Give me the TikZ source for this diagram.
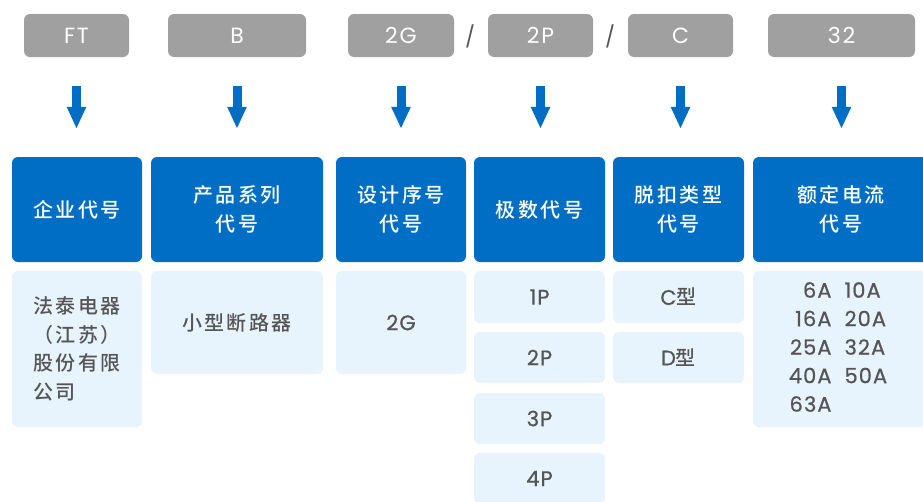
\documentclass[tikz,border=0pt]{standalone}
\usepackage{fontspec}
\setmainfont{Noto Sans CJK SC Medium}[LetterSpace=12]
\newfontfamily\latinfont{Poppins}[LetterSpace=8]
\newfontfamily\latinmed{Poppins}[LetterSpace=5,FakeBold=0.7]
\usetikzlibrary{arrows.meta}
\definecolor{hdrblue}{RGB}{0,110,196}
\definecolor{lightbg}{RGB}{232,244,253}
\definecolor{codegray}{RGB}{160,160,160}
\definecolor{bodytext}{RGB}{85,85,85}
\tikzset{
  codebox/.style={fill=codegray, rounded corners=6pt, text=white, inner sep=0pt,
    minimum height=43pt, font=\latinfont\fontsize{22pt}{25pt}\selectfont},
  hdrbox/.style={fill=hdrblue, rounded corners=6pt, text=white, inner sep=0pt,
    minimum height=105pt, align=center, font=\fontsize{20pt}{29pt}\selectfont},
  bodybox/.style={fill=lightbg, rounded corners=6pt, text=bodytext, inner sep=0pt,
    align=center, font=\fontsize{20pt}{28.5pt}\selectfont},
  latinbody/.style={bodybox, font=\latinmed\fontsize{21pt}{28.5pt}\selectfont},
  slashtext/.style={text=bodytext, inner sep=0pt, font=\latinfont\fontsize{21pt}{24pt}\selectfont},
  downarrow/.style={draw=hdrblue, line width=9pt, -{Triangle[width=18pt,length=22pt]},
    shorten <=29pt, shorten >=28pt}
}
\begin{document}
\begin{tikzpicture}[x=1pt,y=-1pt]
\useasboundingbox (0,0) rectangle (923,501);
\clip (0,0) rectangle (923,501);
% code boxes
\node[codebox, minimum width=105pt] (g1) at (76.5,35.5) {FT};
\node[codebox, minimum width=138pt] (g2) at (237,35.5) {B};
\node[codebox, minimum width=106pt] (g3) at (401,35.5) {2G};
\node[codebox, minimum width=105pt] (g4) at (540.5,35.5) {2P};
\node[codebox, minimum width=105pt] (g5) at (680.5,35.5) {C};
\node[codebox, minimum width=147pt] (g6) at (841.5,35.5) {32};
\node[slashtext] (s1) at (470,36) {/};
\node[slashtext] (s2) at (610,36) {/};
% header boxes
\node[hdrbox, minimum width=130pt] (h1) at (77,209.5) {企业代号};
\node[hdrbox, minimum width=172pt] (h2) at (237,209.5) {产品系列\\代号};
\node[hdrbox, minimum width=130pt] (h3) at (401,209.5) {设计序号\\代号};
\node[hdrbox, minimum width=131pt] (h4) at (539.5,209.5) {极数代号};
\node[hdrbox, minimum width=131pt] (h5) at (678.5,209.5) {脱扣类型\\代号};
\node[hdrbox, minimum width=176pt] (h6) at (841,209.5) {额定电流\\代号};
% arrows
\foreach \i in {1,...,6} {
  \draw[downarrow] (g\i.south) -- (g\i.south |- h\i.north);
}
% body boxes
\node[bodybox, minimum width=130pt, minimum height=156pt, align=left] (b1) at (77,349) {法泰电器\\（江苏）\\股份有限\\公司};
\node[bodybox, minimum width=172pt, minimum height=103pt] (b2) at (237,322.5) {小型断路器};
\node[latinbody, minimum width=130pt, minimum height=103pt] (b3) at (401,322.5) {2G};
\node[latinbody, minimum width=131pt, minimum height=52pt] (p1) at (539.5,297) {1P};
\node[latinbody, minimum width=131pt, minimum height=51pt] (p2) at (539.5,357.5) {2P};
\node[latinbody, minimum width=131pt, minimum height=51pt] (p3) at (539.5,418.5) {3P};
\node[latinbody, minimum width=131pt, minimum height=51pt] (p4) at (539.5,478.5) {4P};
\node[bodybox, minimum width=131pt, minimum height=52pt] (t1) at (678.5,297) {{\latinmed\fontsize{21pt}{28.5pt}\selectfont C}型};
\node[bodybox, minimum width=131pt, minimum height=51pt] (t2) at (678.5,357.5) {{\latinmed\fontsize{21pt}{28.5pt}\selectfont D}型};
\node[latinbody, minimum width=176pt, minimum height=156pt] (b6) at (841,349) {%
  \begin{tabular}{@{}r@{\hspace{13pt}}l@{}}
  6A & 10A\\ 16A & 20A\\ 25A & 32A\\ 40A & 50A\\ 63A &
  \end{tabular}\hspace{6pt}};
\end{tikzpicture}
\end{document}
